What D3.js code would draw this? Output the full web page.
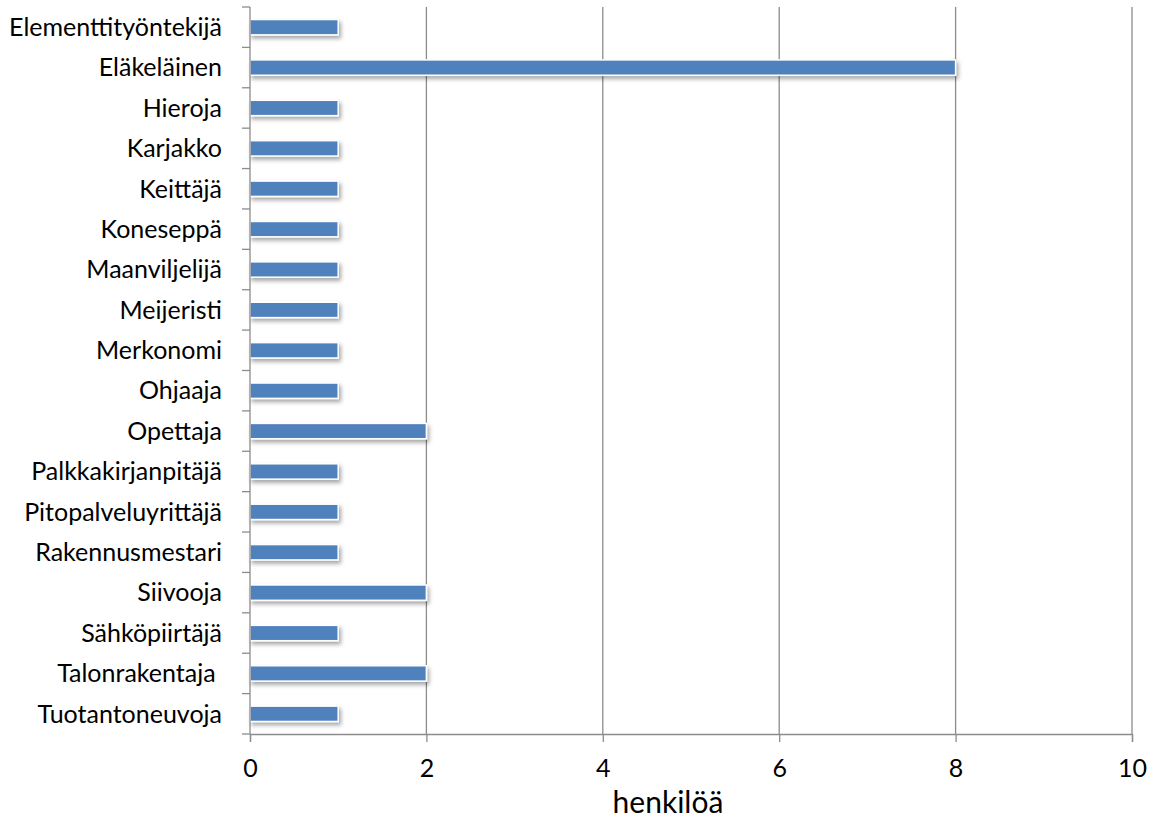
<!DOCTYPE html>
<html>
<head>
<meta charset="utf-8">
<script src="https://cdn.jsdelivr.net/npm/d3@7"></script>
<style>
  body { margin: 0; background: #fff; }
  text { font-family: Lato, "Open Sans", sans-serif; fill: #000; }
</style>
</head>
<body>
<div id="chart"></div>
<script>
// categories top to bottom
const ammatit = ['Elementtityöntekijä', 'Eläkeläinen', 'Hieroja', 'Karjakko', 'Keittäjä', 'Koneseppä',
  'Maanviljelijä', 'Meijeristi', 'Merkonomi', 'Ohjaaja', 'Opettaja', 'Palkkakirjanpitäjä',
  'Pitopalveluyrittäjä', 'Rakennusmestari', 'Siivooja', 'Sähköpiirtäjä', 'Talonrakentaja ', 'Tuotantoneuvoja'];
const henkiloa = [1, 8, 1, 1, 1, 1, 1, 1, 1, 1, 2, 1, 1, 1, 2, 1, 2, 1];
const xTicks = [0, 2, 4, 6, 8, 10];

const width = 1165, height = 823;
const margin = {top: 7, right: 33, bottom: 89, left: 250};

let svg = d3.select('#chart').append('svg')
  .attr('width', width)
  .attr('height', height);

let defs = svg.append('defs');
let f = defs.append('filter').attr('id', 'shadow')
  .attr('x', '-5%').attr('y', '-50%').attr('width', '115%').attr('height', '250%');
f.append('feDropShadow').attr('dx', 2).attr('dy', 3).attr('stdDeviation', 2)
  .attr('flood-color', '#000').attr('flood-opacity', 0.35);

let x = d3.scaleLinear().domain([0, 10]).range([margin.left, width - margin.right]);
let y = d3.scaleBand().domain(ammatit).range([margin.top, height - margin.bottom]).paddingInner(0.62).paddingOuter(0.31);

const gridColor = '#8c8c8c';

// vertical gridlines
svg.append('g').selectAll('line').data(xTicks.slice(1)).enter().append('line')
  .attr('x1', d => x(d)).attr('x2', d => x(d))
  .attr('y1', margin.top).attr('y2', height - margin.bottom)
  .attr('stroke', gridColor).attr('stroke-width', 1.3);

// bars
svg.append('g').selectAll('rect').data(ammatit).enter().append('rect')
  .attr('x', x(0))
  .attr('y', d => y(d))
  .attr('width', (d, i) => x(henkiloa[i]) - x(0))
  .attr('height', y.bandwidth())
  .attr('fill', '#4f81bd')
  .attr('stroke', '#fff').attr('stroke-width', 1.5)
  .attr('filter', 'url(#shadow)');

// x axis
let xAxis = svg.append('g')
  .attr('transform', `translate(0,${height - margin.bottom})`)
  .call(d3.axisBottom(x).tickValues(xTicks).tickSize(8).tickPadding(17).tickFormat(d3.format('d')));
xAxis.select('.domain').attr('stroke', gridColor).attr('stroke-width', 1.3);
xAxis.selectAll('.tick line').attr('stroke', gridColor).attr('stroke-width', 1.3);
xAxis.selectAll('.tick text').style('font-size', '25px').attr('fill', '#000');

// y axis: ticks at category boundaries
let yAxisG = svg.append('g').attr('transform', `translate(${margin.left},0)`);
yAxisG.append('line')
  .attr('x1', 0).attr('x2', 0)
  .attr('y1', margin.top).attr('y2', height - margin.bottom)
  .attr('stroke', gridColor).attr('stroke-width', 1.3);
let bounds = d3.range(ammatit.length + 1).map(i => margin.top + i * (height - margin.top - margin.bottom) / ammatit.length);
yAxisG.selectAll('line.tk').data(bounds).enter().append('line')
  .attr('class', 'tk')
  .attr('x1', -8).attr('x2', 0)
  .attr('y1', d => d).attr('y2', d => d)
  .attr('stroke', gridColor).attr('stroke-width', 1.3);
yAxisG.selectAll('text').data(ammatit).enter().append('text')
  .attr('x', -28)
  .attr('y', d => y(d) + y.bandwidth() / 2)
  .attr('dy', '0.35em')
  .attr('text-anchor', 'end')
  .style('font-size', '25px')
  .style('white-space', 'pre')
  .text(d => d);

// axis title
svg.append('text')
  .attr('x', 668)
  .attr('y', 813)
  .attr('text-anchor', 'middle')
  .style('font-size', '30px')
  .text('henkilöä');
</script>
</body>
</html>
